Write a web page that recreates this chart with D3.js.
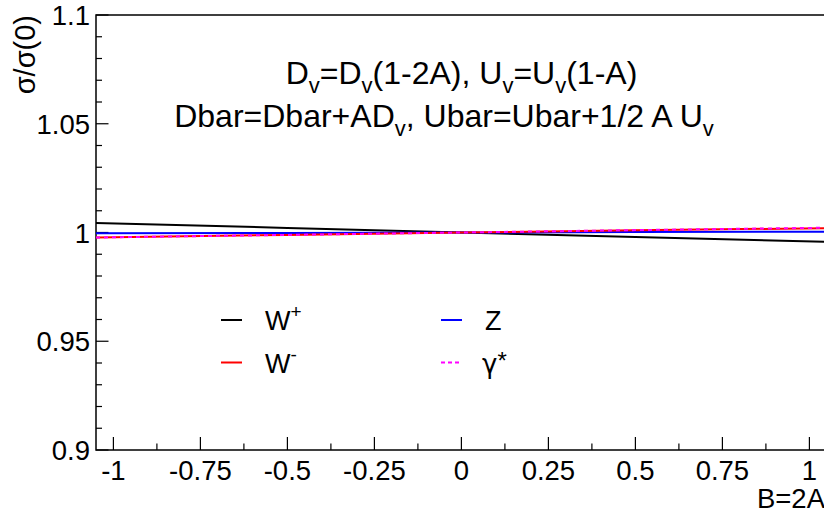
<!DOCTYPE html>
<html>
<head>
<meta charset="utf-8">
<script src="https://cdn.jsdelivr.net/npm/d3@7"></script>
<style>
  body { margin: 0; background: #fff; }
  svg { display: block; font-family: "Liberation Sans", Arial, sans-serif; }
</style>
</head>
<body>
<div id="container"></div>
<script>
// B values (x) at which the ratios were read
var bVals = [-1.05, -0.5, 0, 0.5, 1.05];
var wPlus = [1.0044, 1.0021, 1.0, 0.9979, 0.9957];
var wMinus = [0.9977, 0.9989, 1.0, 1.0010, 1.0020];
var zBoson = [0.9996, 0.9998, 1.0, 1.0002, 1.0004];
var gammaStar = [0.9977, 0.9989, 1.0, 1.0011, 1.0022];

var xTicks = [-1, -0.75, -0.5, -0.25, 0, 0.25, 0.5, 0.75, 1];
var yTicks = [0.9, 0.95, 1, 1.05, 1.1];

var width = 824, height = 513;

var svg = d3.select("#container").append("svg")
    .attr("width", width)
    .attr("height", height);

var x = d3.scaleLinear().domain([-1.05, 1.05]).range([96, 826.8]);
var y = d3.scaleLinear().domain([0.9, 1.1]).range([450, 15]);

// frame
svg.append("rect")
    .attr("x", x.range()[0]).attr("y", y(1.1))
    .attr("width", x.range()[1] - x.range()[0])
    .attr("height", y(0.9) - y(1.1))
    .attr("fill", "none").attr("stroke", "#000").attr("stroke-width", 1.5);

// x axis ticks (drawn inward)
var xMinor = d3.range(-1, 1.0001, 0.125);
svg.append("g").selectAll("line")
    .data(xMinor)
    .enter().append("line")
    .attr("x1", d => x(d)).attr("x2", d => x(d))
    .attr("y1", 450)
    .attr("y2", (d, i) => i % 2 == 0 ? 437 : 443.5)
    .attr("stroke", "#000").attr("stroke-width", 1.2);

svg.append("g").selectAll("text")
    .data(xTicks)
    .enter().append("text")
    .attr("x", d => x(d))
    .attr("y", 480)
    .attr("text-anchor", "middle")
    .attr("font-size", 27.5)
    .text(d => String(d));

// y axis ticks
var yMinor = d3.range(0, 21).map(i => 0.9 + i * 0.01);
svg.append("g").selectAll("line")
    .data(yMinor)
    .enter().append("line")
    .attr("x1", 96).attr("x2", (d, i) => i % 5 == 0 ? 108.5 : 102)
    .attr("y1", d => y(d)).attr("y2", d => y(d))
    .attr("stroke", "#000").attr("stroke-width", 1.2);

svg.append("g").selectAll("text")
    .data(yTicks)
    .enter().append("text")
    .attr("x", 90)
    .attr("y", d => y(d) + 10)
    .attr("text-anchor", "end")
    .attr("font-size", 27.5)
    .text(d => String(d));

// axis titles
svg.append("text")
    .attr("transform", "translate(35,15) rotate(-90)")
    .attr("text-anchor", "end")
    .attr("font-size", 29)
    .text("σ/σ(0)");

svg.append("text")
    .attr("x", 825).attr("y", 508)
    .attr("text-anchor", "end")
    .attr("font-size", 27.5)
    .text("B=2A");

// curves
svg.append("clipPath").attr("id", "plot")
    .append("rect")
    .attr("x", 96).attr("y", 15)
    .attr("width", 730.8).attr("height", 435);

var line = d3.line()
    .x(d => x(d[0]))
    .y(d => y(d[1]));

var series = [
    { name: "W+", vals: wPlus, color: "#000000", dash: null },
    { name: "Z", vals: zBoson, color: "#0000ff", dash: null },
    { name: "W-", vals: wMinus, color: "#ff0000", dash: null },
    { name: "g", vals: gammaStar, color: "#ff00ff", dash: "4,4" }
];

svg.append("g").attr("clip-path", "url(#plot)")
    .selectAll("path")
    .data(series)
    .enter().append("path")
    .attr("d", s => line(bVals.map((b, i) => [b, s.vals[i]])))
    .attr("fill", "none")
    .attr("stroke", s => s.color)
    .attr("stroke-width", 2)
    .attr("stroke-dasharray", s => s.dash);

// title text with subscripts
function addRich(parts, cx, cy) {
    var t = svg.append("text")
        .attr("x", cx).attr("y", cy)
        .attr("text-anchor", "middle")
        .attr("font-size", 32);
    parts.forEach(function (p) {
        var ts = t.append("tspan").text(p[0]);
        if (p[1] == "sub") ts.attr("font-size", 22).attr("dy", 9);
        if (p[2]) ts.attr("dy", p[2]);
    });
    return t;
}

addRich([["D"], ["v", "sub"], ["=D", null, -9], ["v", "sub"], ["(1-2A), U", null, -9], ["v", "sub"],
    ["=U", null, -9], ["v", "sub"], ["(1-A)", null, -9]], 461.5, 84);
addRich([["Dbar=Dbar+AD"], ["v", "sub"], [", Ubar=Ubar+1/2 A U", null, -9], ["v", "sub"]], 444, 127);

// legend
var legend = [
    { label: "W", sup: "+", color: "#000", dash: null, lx: 221, ly: 320 },
    { label: "W", sup: "-", color: "#ff0000", dash: null, lx: 221, ly: 362.5 },
    { label: "Z", sup: "", color: "#0000ff", dash: null, lx: 441, ly: 320 },
    { label: "γ", sup: "*", color: "#ff00ff", dash: "4,3", lx: 441, ly: 362.5 }
];

var lg = svg.append("g").selectAll("g")
    .data(legend)
    .enter().append("g");

lg.append("line")
    .attr("x1", d => d.lx).attr("x2", d => d.lx + 21)
    .attr("y1", d => d.ly).attr("y2", d => d.ly)
    .attr("stroke", d => d.color)
    .attr("stroke-width", 2)
    .attr("stroke-dasharray", d => d.dash);

var lt = lg.append("text")
    .attr("x", d => d.label == "γ" ? d.lx + 41 : d.lx + 44)
    .attr("y", d => d.ly + 10)
    .attr("font-size", 27);
lt.append("tspan")
    .attr("font-family", d => d.label == "γ" ? "DejaVu Sans" : null)
    .attr("font-size", d => d.label == "γ" ? 26 : 27)
    .text(d => d.label);
lt.append("tspan")
    .attr("font-size", d => d.sup == "*" ? 24 : 19)
    .attr("dy", d => d.sup == "*" ? -4 : -12)
    .text(d => d.sup);
</script>
</body>
</html>
